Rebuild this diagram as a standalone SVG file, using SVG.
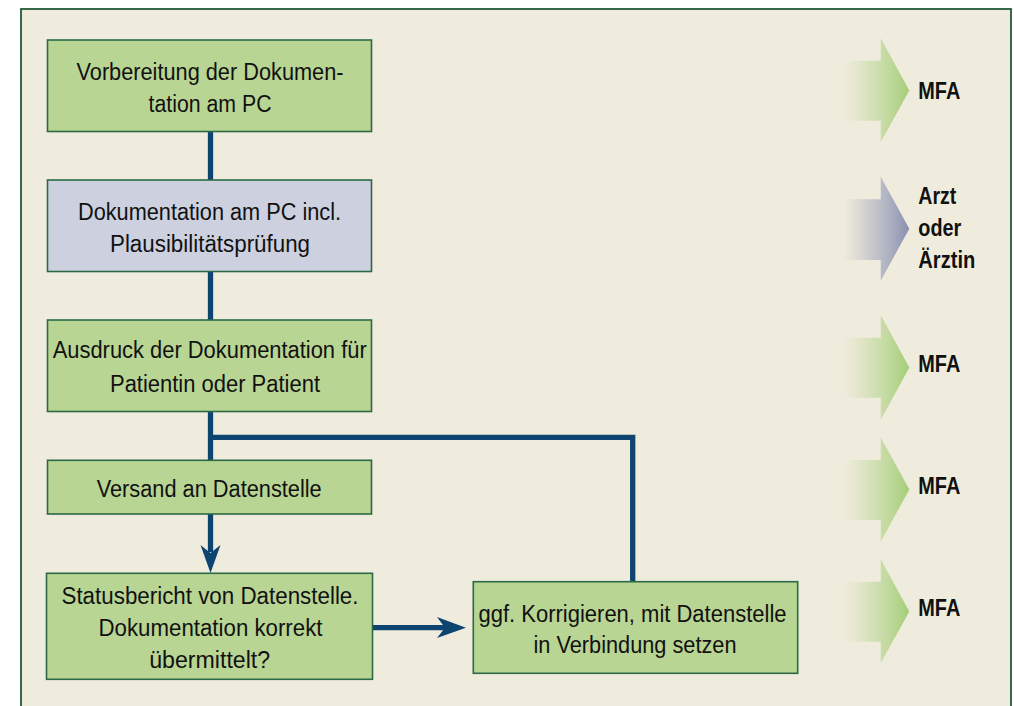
<svg xmlns="http://www.w3.org/2000/svg" width="1014" height="706" viewBox="0 0 1014 706">
<style>
.box{stroke:#2b6a45;stroke-width:1.6}
.g{fill:#b9d593}
.b{fill:#cdd0de}
.t{font-family:"Liberation Sans Narrow","Liberation Sans",Arial,sans-serif;font-size:23.5px;fill:#111;text-anchor:middle}
.r{font-family:"Liberation Sans",Arial,sans-serif;font-weight:bold;font-size:23px;fill:#111}
.c{stroke:#0e4470;stroke-width:5.3;fill:none}
</style>
<defs>
<linearGradient id="gg" x1="843" y1="0" x2="910" y2="0" gradientUnits="userSpaceOnUse">
<stop offset="0" stop-color="#b9d593" stop-opacity="0"/>
<stop offset="1" stop-color="#a3cd76"/>
</linearGradient>
<linearGradient id="gb" x1="843" y1="0" x2="910" y2="0" gradientUnits="userSpaceOnUse">
<stop offset="0" stop-color="#9aa0bc" stop-opacity="0"/>
<stop offset="1" stop-color="#8890b0"/>
</linearGradient>
</defs>
<rect x="0" y="0" width="1014" height="706" fill="#ffffff"/>
<rect x="21" y="9" width="990" height="720" fill="#f0ecdd" stroke="#24593a" stroke-width="1.8"/>

<g id="connectors">
<line class="c" x1="210.5" y1="131" x2="210.5" y2="181"/>
<line class="c" x1="210.5" y1="271" x2="210.5" y2="321"/>
<line class="c" x1="210.5" y1="411" x2="210.5" y2="461"/>
<polyline class="c" points="210.5,437.3 632.7,437.3 632.7,582"/>
<line class="c" x1="210.5" y1="514" x2="210.5" y2="552"/>
<polygon fill="#0e4470" points="200.5,545 210.5,553 220.5,545 210.5,573"/>
<line class="c" x1="372" y1="627.7" x2="445" y2="627.7"/>
<polygon fill="#0e4470" points="437,617 445,627.7 437,638 466,627.7"/>
</g>

<g id="n1">
<rect class="box g" x="47.5" y="40" width="324" height="91.5"/>
<text class="t" x="210" y="80" textLength="267" lengthAdjust="spacingAndGlyphs">Vorbereitung der Dokumen-</text>
<text class="t" x="210" y="111.7" textLength="123" lengthAdjust="spacingAndGlyphs">tation am PC</text>
</g>
<g id="n2">
<rect class="box b" x="47.5" y="180" width="324" height="91.5"/>
<text class="t" x="209.5" y="220" textLength="263" lengthAdjust="spacingAndGlyphs">Dokumentation am PC incl.</text>
<text class="t" x="210" y="251.7" textLength="200" lengthAdjust="spacingAndGlyphs">Plausibilitätsprüfung</text>
</g>
<g id="n3">
<rect class="box g" x="47.5" y="320" width="324" height="91.5"/>
<text class="t" x="209.7" y="358.3" textLength="314" lengthAdjust="spacingAndGlyphs">Ausdruck der Dokumentation für</text>
<text class="t" x="215" y="391.7" textLength="210" lengthAdjust="spacingAndGlyphs">Patientin oder Patient</text>
</g>
<g id="n4">
<rect class="box g" x="47.5" y="460.3" width="324" height="53.7"/>
<text class="t" x="209.2" y="497.3" textLength="225" lengthAdjust="spacingAndGlyphs">Versand an Datenstelle</text>
</g>
<g id="n5">
<rect class="box g" x="46.5" y="573.3" width="326" height="106"/>
<text class="t" x="210" y="604" textLength="297" lengthAdjust="spacingAndGlyphs">Statusbericht von Datenstelle.</text>
<text class="t" x="210.5" y="636" textLength="224" lengthAdjust="spacingAndGlyphs">Dokumentation korrekt</text>
<text class="t" x="209.7" y="668.3" textLength="121" lengthAdjust="spacingAndGlyphs">übermittelt?</text>
</g>
<g id="n6">
<rect class="box g" x="473.3" y="581.7" width="324.4" height="91.6"/>
<text class="t" x="632.5" y="621.7" textLength="308" lengthAdjust="spacingAndGlyphs">ggf. Korrigieren, mit Datenstelle</text>
<text class="t" x="635" y="653.3" textLength="203" lengthAdjust="spacingAndGlyphs">in Verbindung setzen</text>
</g>

<g id="role1">
<polygon fill="url(#gg)" points="843,60.7 880.7,60.7 880.7,38.3 909.3,90.5 880.7,142.3 880.7,120.7 843,120.7"/>
<text class="r" x="918.3" y="99.3" textLength="42" lengthAdjust="spacingAndGlyphs">MFA</text>
</g>
<g id="role2">
<polygon fill="url(#gb)" points="843,199.3 880.7,199.3 880.7,176.7 909.3,228.7 880.7,280.7 880.7,260 843,260"/>
<text class="r" x="918.3" y="203.5" textLength="38" lengthAdjust="spacingAndGlyphs">Arzt</text>
<text class="r" x="918.3" y="235.7" textLength="43" lengthAdjust="spacingAndGlyphs">oder</text>
<text class="r" x="918.3" y="267.7" textLength="57" lengthAdjust="spacingAndGlyphs">Ärztin</text>
</g>
<g id="role3">
<polygon fill="url(#gg)" points="843,337.7 880.7,337.7 880.7,315 909.3,367.5 880.7,420 880.7,397.7 843,397.7"/>
<text class="r" x="918.3" y="371.7" textLength="42" lengthAdjust="spacingAndGlyphs">MFA</text>
</g>
<g id="role4">
<polygon fill="url(#gg)" points="843,460 880.7,460 880.7,437.3 909.3,489.5 880.7,541.7 880.7,520 843,520"/>
<text class="r" x="918.3" y="494" textLength="42" lengthAdjust="spacingAndGlyphs">MFA</text>
</g>
<g id="role5">
<polygon fill="url(#gg)" points="843,581.7 880.7,581.7 880.7,559.3 909.3,611.5 880.7,663.3 880.7,641.7 843,641.7"/>
<text class="r" x="918.3" y="615.7" textLength="42" lengthAdjust="spacingAndGlyphs">MFA</text>
</g>
</svg>
